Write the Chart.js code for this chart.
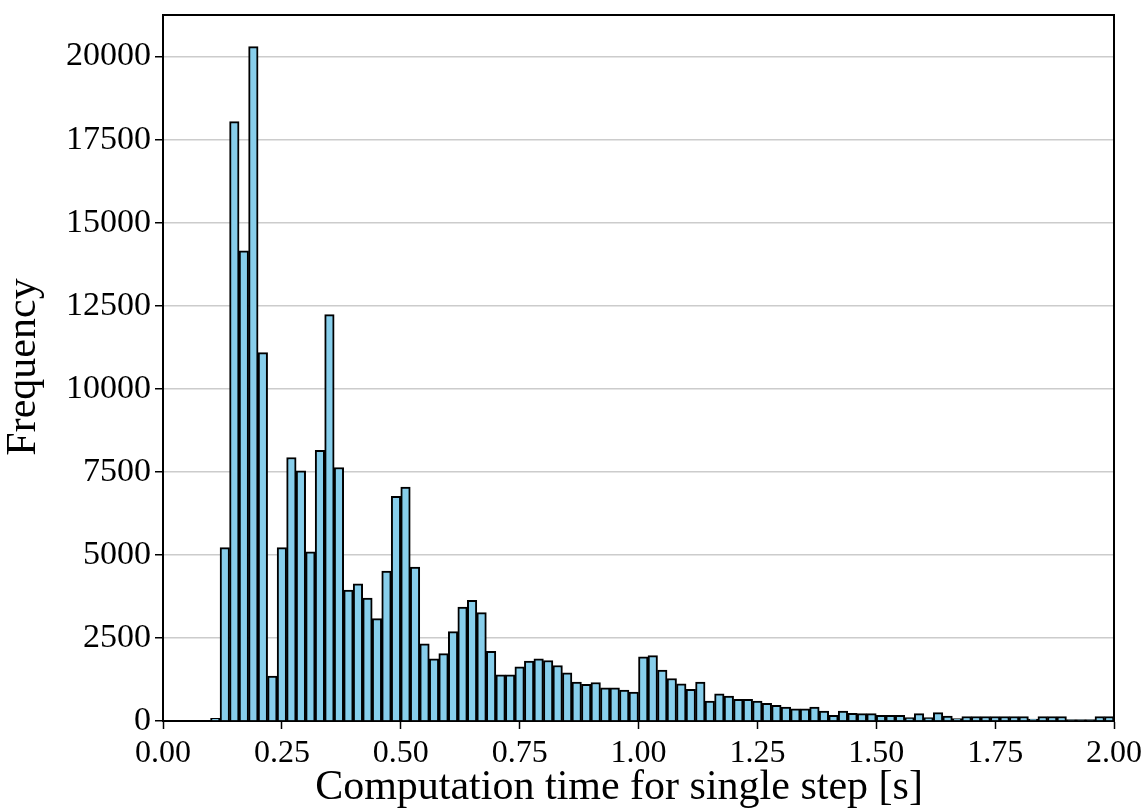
<!DOCTYPE html>
<html>
<head>
<meta charset="utf-8">
<script src="https://cdn.jsdelivr.net/npm/chart.js@4.4.1/dist/chart.umd.min.js"></script>
<style>
  body { margin: 0; background: #fff; }
  #histHolder { width: 1148px; height: 810px; }
</style>
</head>
<body>
<div id="histHolder">
  <canvas id="histChart" width="1148" height="810"></canvas>
</div>
<script>
// histogram bins: 0.00 .. 2.00 s, 100 bins of 0.02 s
const binStart = 0;
const binWidth = 0.02;
const counts = [
  0, 0, 0, 0, 0, 80, 5220, 18040, 14150, 20300,
  11090, 1350, 5220, 7930, 7530, 5090, 8150, 12230, 7630, 3940,
  4130, 3700, 3080, 4510, 6760, 7040, 4630, 2320, 1870, 2030,
  2690, 3430, 3630, 3260, 2100, 1390, 1390, 1630, 1800, 1870,
  1820, 1670, 1450, 1170, 1100, 1160, 1000, 1000, 930, 870,
  1930, 1970, 1530, 1280, 1120, 950, 1170, 600, 820, 750,
  650, 650, 600, 530, 470, 420, 370, 370, 420, 300,
  170, 300, 230, 220, 220, 170, 170, 170, 100, 220,
  100, 250, 150, 70, 130, 130, 130, 130, 130, 130,
  130, 60, 130, 130, 130, 40, 40, 40, 130, 130
];
const xTicks = [0, 0.25, 0.5, 0.75, 1.0, 1.25, 1.5, 1.75, 2.0];
const yTicks = [0, 2500, 5000, 7500, 10000, 12500, 15000, 17500, 20000];
const xTitle = "Computation time for single step [s]";
const yTitle = "Frequency";

const serif = "'Liberation Serif', 'Times New Roman', serif";

const points = counts.map((c, i) => ({ x: binStart + (i + 0.5) * binWidth, y: c }));

// frame on top / right plus the axis titles
const framePlugin = {
  id: "frame",
  afterDraw(chart) {
    const { ctx, chartArea } = chart;
    ctx.save();
    ctx.strokeStyle = "#000";
    ctx.lineWidth = 2;
    ctx.beginPath();
    ctx.moveTo(chartArea.left, chartArea.top);
    ctx.lineTo(chartArea.right, chartArea.top);
    ctx.lineTo(chartArea.right, chartArea.bottom);
    ctx.stroke();

    ctx.fillStyle = "#000";
    ctx.font = "42px " + serif;
    ctx.textAlign = "center";
    ctx.textBaseline = "alphabetic";
    ctx.fillText(xTitle, 619, 799);

    ctx.translate(35, 367);
    ctx.rotate(-Math.PI / 2);
    ctx.fillText(yTitle, 0, 0);
    ctx.restore();
  }
};

const histChart = new Chart(document.querySelector("#histChart"), {
  type: "bar",
  data: {
    datasets: [{
      label: "steps",
      data: points,
      backgroundColor: "#87CEEB",
      borderColor: "#000",
      borderWidth: 2,
      barPercentage: 1,
      categoryPercentage: 1
    }]
  },
  options: {
    responsive: false,
    animation: false,
    layout: { padding: { top: 15, right: 34, left: 0, bottom: 0 } },
    plugins: {
      legend: { display: false },
      tooltip: { enabled: false }
    },
    scales: {
      x: {
        type: "linear",
        offset: false,
        min: 0,
        max: 2,
        afterFit: (scale) => {
          scale.height = 89;
          scale.paddingLeft = 0;
          scale.paddingRight = 0;
        },
        afterBuildTicks: (scale) => { scale.ticks = xTicks.map(v => ({ value: v })); },
        ticks: {
          color: "#000",
          font: { family: serif, size: 32 },
          padding: 5,
          maxRotation: 0,
          autoSkip: false,
          callback: (v) => Number(v).toFixed(2)
        },
        grid: {
          offset: false,
          drawOnChartArea: false,
          tickColor: "#000",
          tickLength: 8,
          tickWidth: 1.5
        },
        border: { color: "#000", width: 2 }
      },
      y: {
        min: 0,
        max: 21250,
        afterFit: (scale) => {
          scale.width = 163;
          scale.paddingTop = 0;
          scale.paddingBottom = 0;
        },
        afterBuildTicks: (scale) => { scale.ticks = yTicks.map(v => ({ value: v })); },
        ticks: {
          color: "#000",
          font: { family: serif, size: 34 },
          padding: 4,
          callback: (v) => String(v)
        },
        grid: {
          color: "#cccccc",
          lineWidth: 1.5,
          tickColor: "#000",
          tickLength: 8,
          tickWidth: 1.5
        },
        border: { color: "#000", width: 2 }
      }
    }
  },
  plugins: [framePlugin]
});
</script>
</body>
</html>
